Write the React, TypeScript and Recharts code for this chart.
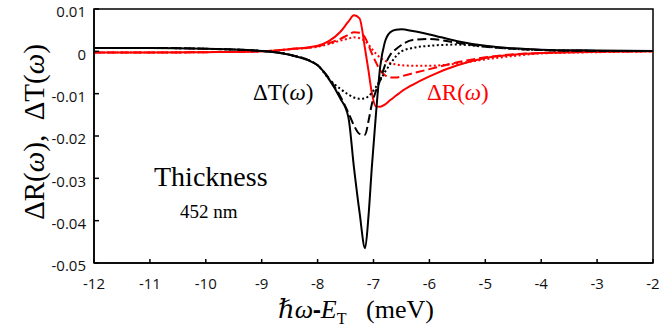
import React from "react";
import { LineChart, Line, XAxis, YAxis, ReferenceArea } from "recharts";

// photon energy relative to E_T (meV)
const energy = [
  -12, -11, -10, -9, -8.5, -8, -7.8, -7.6, -7.45, -7.35, -7.25, -7.15, -7.09,
  -7.03, -6.96, -6.88, -6.8, -6.7, -6.6, -6.5, -6.3, -6, -5.5, -5, -4.5, -4,
  -3, -2,
];

// ΔT(ω) curves
const tSolid = [
  0.0008, 0.0008, 0.0006, 0.0001, -0.0008, -0.0033, -0.0065, -0.011, -0.0155,
  -0.0274, -0.038, -0.0465, -0.039, -0.0274, -0.0155, -0.0036, 0.002, 0.0045,
  0.0051, 0.0052, 0.0048, 0.004, 0.0024, 0.0013, 0.0007, 0.0004, 0.0002,
  0.0001,
];
const tDashed = [
  0.0008, 0.0008, 0.0006, 0.0001, -0.0008, -0.0033, -0.0063, -0.0105, -0.0145,
  -0.0175, -0.0195, -0.0197, -0.0165, -0.0125, -0.0095, -0.0068, -0.0035,
  -0.0008, 0.0005, 0.0015, 0.0027, 0.0029, 0.002, 0.0011, 0.0006, 0.0003,
  0.0001, 0.0001,
];
const tDotted = [
  0.0008, 0.0008, 0.0006, 0.0001, -0.0008, -0.0033, -0.0065, -0.0088, -0.0102,
  -0.0109, -0.0112, -0.0111, -0.0106, -0.0098, -0.0085, -0.0068, -0.005,
  -0.003, -0.0012, 0.0, 0.0008, 0.0013, 0.0016, 0.0011, 0.0006, 0.0003,
  0.0001, 0.0001,
];

// ΔR(ω) curves
const rSolid = [
  -0.0003, -0.0003, -0.0002, 0.0, 0.0005, 0.0013, 0.0024, 0.0045, 0.007,
  0.0085, 0.0078, 0.0005, -0.0045, -0.0098, -0.013, -0.0131, -0.0126,
  -0.0115, -0.0105, -0.0095, -0.0079, -0.0059, -0.0033, -0.0016, -0.0008,
  -0.0004, -0.0001, 0.0,
];
const rDashed = [
  -0.0003, -0.0003, -0.0002, 0.0, 0.0005, 0.0012, 0.0019, 0.0029, 0.0039,
  0.0045, 0.0044, 0.0032, 0.0015, -0.0005, -0.0025, -0.0045, -0.0056,
  -0.0062, -0.0062, -0.0059, -0.0052, -0.0042, -0.0026, -0.0014, -0.0007,
  -0.0004, -0.0001, 0.0,
];
const rDotted = [
  -0.0003, -0.0003, -0.0002, 0.0, 0.0005, 0.0011, 0.0017, 0.0025, 0.003,
  0.0033, 0.0031, 0.0024, 0.0016, 0.0006, -0.0005, -0.0015, -0.0022,
  -0.0028, -0.0031, -0.0033, -0.0034, -0.0034, -0.0029, -0.0019, -0.0011,
  -0.0005, -0.0002, 0.0,
];

const xTicks = [-12, -11, -10, -9, -8, -7, -6, -5, -4, -3, -2];
const yTicks = [0.01, 0, -0.01, -0.02, -0.03, -0.04, -0.05];

const data = energy.map((x, i) => ({
  x,
  tSolid: tSolid[i],
  tDashed: tDashed[i],
  tDotted: tDotted[i],
  rSolid: rSolid[i],
  rDashed: rDashed[i],
  rDotted: rDotted[i],
}));

const serif = "'Liberation Serif', 'DejaVu Serif', serif";
const tickFont = "'Open Sans', sans-serif";

export default function App() {
  return (
    <div style={{ position: "absolute", left: 0, top: 0, width: 660, height: 331, background: "#fff" }}>
      <LineChart
        width={660}
        height={331}
        data={data}
        margin={{ top: 9, right: 7, bottom: 38, left: 34 }}
      >
        <XAxis
          dataKey="x"
          type="number"
          domain={[-12, -2]}
          ticks={xTicks}
          tickSize={-4}
          tickMargin={19}
          height={30}
          tick={{ fontSize: 15, fill: "#111", fontFamily: tickFont }}
          stroke="#000"
          strokeWidth={1.5}
          tickFormatter={(v) => String(v)}
        />
        <XAxis
          xAxisId="top"
          dataKey="x"
          orientation="top"
          type="number"
          domain={[-12, -2]}
          ticks={xTicks}
          tick={false}
          tickSize={-3}
          height={0}
          stroke="#000"
          strokeWidth={1.5}
        />
        <YAxis
          type="number"
          domain={[-0.05, 0.01]}
          ticks={yTicks}
          tickSize={-5}
          tickMargin={13}
          width={60}
          tick={{ fontSize: 15, fill: "#111", fontFamily: tickFont, dy: 3 }}
          stroke="#000"
          strokeWidth={1.5}
          allowDataOverflow
          tickFormatter={(v) => String(v)}
        />
        <YAxis
          yAxisId="r"
          orientation="right"
          type="number"
          domain={[-0.05, 0.01]}
          tick={false}
          tickLine={false}
          width={0}
          stroke="#000"
          strokeWidth={1.5}
        />
        <ReferenceArea
          x1={-12}
          x2={-2}
          y1={-0.05}
          y2={0.01}
          fill="none"
          stroke="#000"
          strokeWidth={1.5}
          ifOverflow="visible"
        />
        {/* invisible series so the top / right frame axes get drawn */}
        <Line xAxisId="top" yAxisId="r" dataKey="tSolid" stroke="none" dot={false} legendType="none" isAnimationActive={false} />
        <Line type="monotone" dataKey="rDotted" stroke="#ff0000" strokeWidth={2} strokeDasharray="2 2.5" dot={false} isAnimationActive={false} />
        <Line type="monotone" dataKey="rDashed" stroke="#ff0000" strokeWidth={2} strokeDasharray="9 4" dot={false} isAnimationActive={false} />
        <Line type="monotone" dataKey="rSolid" stroke="#ff0000" strokeWidth={2} dot={false} isAnimationActive={false} />
        <Line type="monotone" dataKey="tDotted" stroke="#000" strokeWidth={2} strokeDasharray="2 2.5" dot={false} isAnimationActive={false} />
        <Line type="monotone" dataKey="tDashed" stroke="#000" strokeWidth={2} strokeDasharray="9 4" dot={false} isAnimationActive={false} />
        <Line type="monotone" dataKey="tSolid" stroke="#000" strokeWidth={2} dot={false} isAnimationActive={false} />
      </LineChart>

      <div style={{ position: "absolute", left: 253, top: 81, fontFamily: serif, fontSize: 23, color: "#000", lineHeight: 1 }}>
        ΔT(<i>ω</i>)
      </div>
      <div style={{ position: "absolute", left: 427, top: 81, fontFamily: serif, fontSize: 23, color: "#ff0000", lineHeight: 1 }}>
        ΔR(<i>ω</i>)
      </div>
      <div style={{ position: "absolute", left: 154, top: 163, fontFamily: serif, fontSize: 28, color: "#000", lineHeight: 1 }}>
        Thickness
      </div>
      <div style={{ position: "absolute", left: 180, top: 202, fontFamily: serif, fontSize: 19, color: "#000", lineHeight: 1 }}>
        452 nm
      </div>
      <div style={{ position: "absolute", left: 278, top: 297, fontFamily: serif, fontSize: 26, color: "#000", lineHeight: 1, whiteSpace: "nowrap" }}>
        <i>ℏω</i><b style={{ fontFamily: tickFont, fontSize: 24 }}>-</b><i>E</i><sub style={{ fontSize: 16, lineHeight: 0 }}>T</sub>&nbsp;&nbsp; (meV)
      </div>
      <div
        style={{
          position: "absolute",
          left: 34,
          top: 132,
          transform: "translate(-50%, -50%) rotate(-90deg)",
          fontFamily: serif,
          fontSize: 29,
          color: "#000",
          lineHeight: 1,
          whiteSpace: "nowrap",
        }}
      >
        ΔR(<i>ω</i>),&nbsp; ΔT(<i>ω</i>)
      </div>
    </div>
  );
}
